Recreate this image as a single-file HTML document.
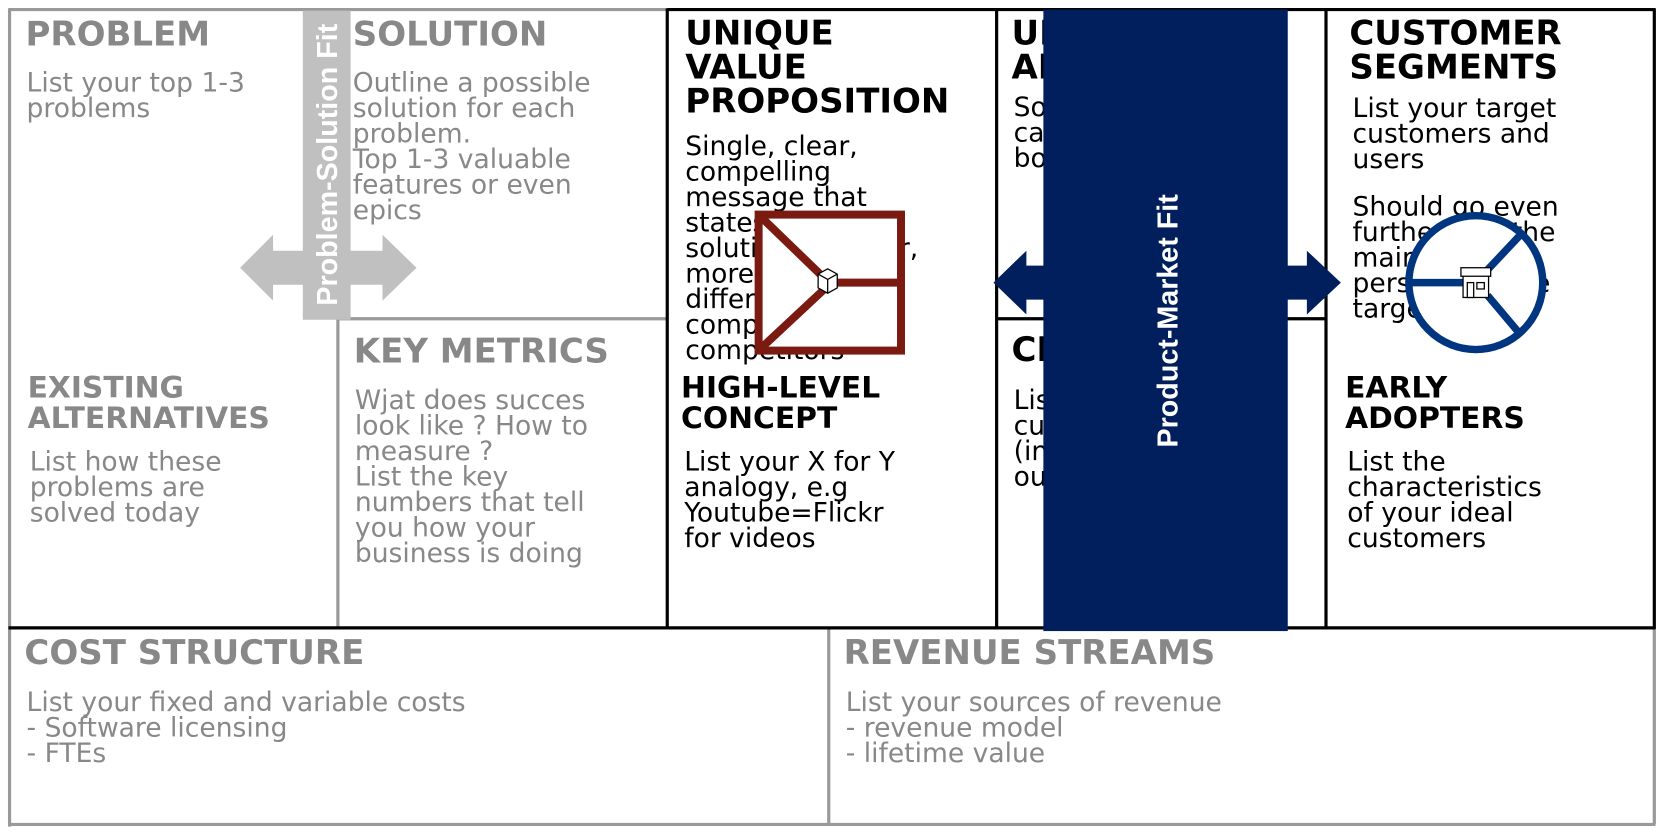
<!DOCTYPE html>
<html><head><meta charset="utf-8"><style>
html,body{margin:0;padding:0;background:#fff;width:1666px;height:834px;overflow:hidden}
svg{display:block}
.h{font-family:"DejaVu Sans","Liberation Sans",sans-serif;font-weight:bold;font-size:32px}
.s{font-family:"DejaVu Sans","Liberation Sans",sans-serif;font-weight:bold;font-size:28px}
.b{font-family:"DejaVu Sans","Liberation Sans",sans-serif;font-size:25px}
.g{fill:#888}
.k{fill:#000}
</style></head><body>
<svg width="1666" height="834" viewBox="0 0 1568 785" preserveAspectRatio="none" xmlns="http://www.w3.org/2000/svg">
<rect width="1568" height="785" fill="#fff"/>
<g stroke="#999" stroke-width="3" fill="none">
<line x1="8" y1="9" x2="630" y2="9"/>
<line x1="9" y1="8" x2="9" y2="778"/>
<line x1="318" y1="300" x2="318" y2="591"/>
<line x1="318" y1="300" x2="628" y2="300"/>
<line x1="8" y1="776" x2="1558" y2="776"/>
<line x1="780" y1="592" x2="780" y2="776"/>
<line x1="1557" y1="592" x2="1557" y2="776"/>
</g>
<g stroke="#000" stroke-width="3" fill="none">
<line x1="628" y1="9" x2="1558" y2="9"/>
<line x1="628" y1="8" x2="628" y2="592"/>
<line x1="938" y1="8" x2="938" y2="592"/>
<line x1="1248" y1="8" x2="1248" y2="592"/>
<line x1="1557" y1="8" x2="1557" y2="592"/>
<line x1="938" y1="300" x2="1248" y2="300"/>
<line x1="8" y1="591" x2="1558" y2="591"/>
</g>

<g>
<text class="h g" x="24" y="43">PROBLEM</text>
<text class="b g" x="25" y="86">List your top 1-3</text>
<text class="b g" x="25" y="110">problems</text>
<text class="h g" x="332" y="43">SOLUTION</text>
<text class="b g" x="332" y="86">Outline a possible</text>
<text class="b g" x="332" y="110">solution for each</text>
<text class="b g" x="332" y="134">problem.</text>
<text class="b g" x="332" y="158">Top 1-3 valuable</text>
<text class="b g" x="332" y="182">features or even</text>
<text class="b g" x="332" y="206">epics</text>
<text class="s g" x="26" y="374">EXISTING</text>
<text class="s g" x="26" y="403">ALTERNATIVES</text>
<text class="b g" x="28" y="443">List how these</text>
<text class="b g" x="28" y="467">problems are</text>
<text class="b g" x="28" y="491">solved today</text>
<text class="h g" x="333" y="341">KEY METRICS</text>
<text class="b g" x="334" y="385">Wjat does succes</text>
<text class="b g" x="334" y="409">look like ? How to</text>
<text class="b g" x="334" y="433">measure ?</text>
<text class="b g" x="334" y="457">List the key</text>
<text class="b g" x="334" y="481">numbers that tell</text>
<text class="b g" x="334" y="505">you how your</text>
<text class="b g" x="334" y="529">business is doing</text>
<text class="h k" x="645" y="42">UNIQUE</text>
<text class="h k" x="645" y="74">VALUE</text>
<text class="h k" x="645" y="106">PROPOSITION</text>
<text class="b k" x="645" y="146">Single, clear,</text>
<text class="b k" x="645" y="170">compelling</text>
<text class="b k" x="645" y="194">message that</text>
<text class="b k" x="645" y="218">states why your</text>
<text class="b k" x="645" y="242">solution is better,</text>
<text class="b k" x="645" y="266">more worth</text>
<text class="b k" x="645" y="290">different</text>
<text class="b k" x="645" y="314">compared to</text>
<text class="b k" x="645" y="338">competitors</text>
<text class="s k" x="641" y="374">HIGH-LEVEL</text>
<text class="s k" x="641" y="403">CONCEPT</text>
<text class="b k" x="644" y="443">List your X for Y</text>
<text class="b k" x="644" y="467">analogy, e.g</text>
<text class="b k" x="644" y="491">Youtube=Flickr</text>
<text class="b k" x="644" y="515">for videos</text>
<text class="h k" x="952" y="42">UNFAIR</text>
<text class="h k" x="952" y="74">ADVANTAGE</text>
<text class="b k" x="954" y="109">Something that</text>
<text class="b k" x="954" y="133">cannot easily be</text>
<text class="b k" x="954" y="157">bought</text>
<text class="h k" x="952" y="340">CHANNELS</text>
<text class="b k" x="954" y="385">List your path to</text>
<text class="b k" x="954" y="409">customers</text>
<text class="b k" x="954" y="433">(inbound and</text>
<text class="b k" x="954" y="457">outbound)</text>
<text class="h k" x="1270" y="42">CUSTOMER</text>
<text class="h k" x="1270" y="74">SEGMENTS</text>
<text class="b k" x="1273" y="110">List your target</text>
<text class="b k" x="1273" y="134">customers and</text>
<text class="b k" x="1273" y="158">users</text>
<text class="b k" x="1273" y="203">Should go even</text>
<text class="b k" x="1273" y="227">further into the</text>
<text class="b k" x="1273" y="251">main</text>
<text class="b k" x="1273" y="275">personas to be</text>
<text class="b k" x="1273" y="299">targeted</text>
<text class="s k" x="1266" y="374">EARLY</text>
<text class="s k" x="1266" y="403">ADOPTERS</text>
<text class="b k" x="1268" y="443">List the</text>
<text class="b k" x="1268" y="467">characteristics</text>
<text class="b k" x="1268" y="491">of your ideal</text>
<text class="b k" x="1268" y="515">customers</text>
<text class="h g" x="23" y="625">COST STRUCTURE</text>
<text class="b g" x="25" y="669">List your fixed and variable costs</text>
<text class="b g" x="25" y="693">- Software licensing</text>
<text class="b g" x="25" y="717">- FTEs</text>
<text class="h g" x="794" y="625">REVENUE STREAMS</text>
<text class="b g" x="796" y="669">List your sources of revenue</text>
<text class="b g" x="796" y="693">- revenue model</text>
<text class="b g" x="796" y="717">- lifetime value</text>
</g>

<polygon points="226,252 257,221 257,236 360,236 360,221 392,252 360,283 360,268 257,268 257,283" fill="#c0c0c0"/>
<rect x="285" y="10" width="45" height="291" fill="#c0c0c0"/>
<text transform="translate(317,155) rotate(-90)" text-anchor="middle" font-family="Liberation Sans, sans-serif" font-weight="bold" font-size="27" fill="#fff">Problem-Solution Fit</text>

<polygon points="935,266 966,236 966,250 1230,250 1230,236 1262,266 1230,296 1230,282 966,282 966,296" fill="#001f5c"/>
<rect x="982" y="9" width="230" height="585" fill="#001f5c"/>
<text transform="translate(1108,302) rotate(-90)" text-anchor="middle" font-family="Liberation Sans, sans-serif" font-weight="bold" font-size="27" fill="#fff">Product-Market Fit</text>

<g stroke="#7a1a10" stroke-width="7.5" fill="none">
<rect x="714" y="202" width="134" height="128" fill="#fff"/>
<line x1="716" y1="204" x2="776" y2="262"/>
<line x1="716" y1="328" x2="776" y2="272"/>
<line x1="786" y1="266" x2="846" y2="266"/>
</g>
<g stroke="#000" stroke-width="1.2" fill="#fff">
<polygon points="770,258 779,253 788,258 788,271 779,276 770,271"/>
<polyline points="770,258 779,263 788,258" fill="none"/>
<line x1="779" y1="263" x2="779" y2="276"/>
</g>

<circle cx="1389" cy="266" r="63" fill="#fff" stroke="#003580" stroke-width="7"/>
<g stroke="#003580" stroke-width="7">
<line x1="1328" y1="266" x2="1378" y2="266"/>
<line x1="1400" y1="254" x2="1432" y2="220"/>
<line x1="1400" y1="278" x2="1432" y2="316"/>
</g>
<g stroke="#000" stroke-width="1.2" fill="#fff">
<rect x="1377" y="258" width="24" height="22"/>
<rect x="1375" y="252" width="28" height="8"/>
<rect x="1381" y="266" width="6" height="14"/>
<rect x="1390" y="266" width="7" height="6"/>
</g>
</svg>
</body></html>
